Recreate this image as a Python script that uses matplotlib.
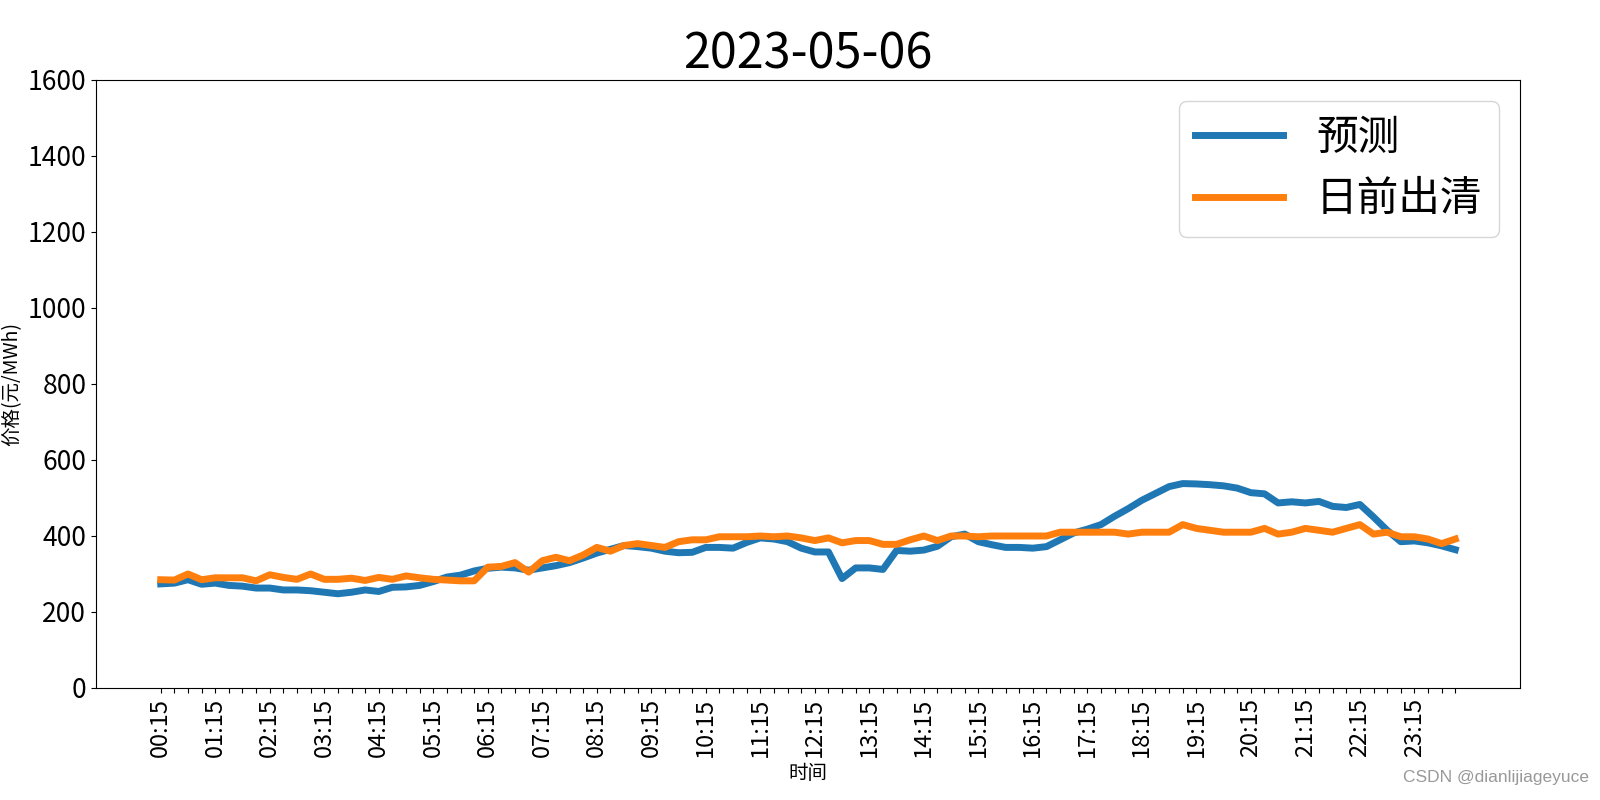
import numpy as np
import matplotlib
matplotlib.use('Agg')
import matplotlib.pyplot as plt

plt.rcParams['font.family'] = ['Noto Sans CJK SC', 'DejaVu Sans']
plt.rcParams['axes.unicode_minus'] = False

# 96 quarter-hour points, 00:15 ... 24:00
times = ['%02d:%02d' % divmod(15 * (i + 1), 60) for i in range(96)]

pred = [274, 276, 285, 273, 276, 270, 268, 263, 263, 258, 258, 256,
        252, 248, 252, 258, 254, 265, 266, 270, 280, 292, 297, 308,
        315, 318, 316, 310, 316, 322, 330, 342, 355, 365, 375, 372,
        368, 360, 356, 357, 370, 370, 368, 383, 395, 392, 385, 368,
        358, 358, 288, 316, 316, 312, 362, 360, 363, 373, 398, 405,
        385, 377, 370, 370, 368, 372, 390, 408, 418, 430, 452, 472,
        494, 512, 530, 538, 537, 535, 532, 526, 514, 511, 487, 490,
        487, 491, 478, 475, 483, 450, 415, 385, 387, 382, 374, 364]

clearing = [285, 284, 300, 285, 290, 290, 290, 282, 298, 291, 286, 300,
            286, 286, 289, 283, 291, 286, 295, 290, 286, 284, 282, 282,
            318, 320, 330, 305, 335, 344, 335, 350, 370, 360, 375, 380,
            375, 370, 385, 390, 390, 398, 398, 398, 400, 398, 400, 395,
            388, 395, 382, 388, 388, 378, 378, 390, 400, 388, 400, 400,
            398, 400, 400, 400, 400, 400, 410, 410, 410, 410, 410, 405,
            410, 410, 410, 430, 420, 415, 410, 410, 410, 420, 405, 410,
            420, 415, 410, 420, 430, 405, 410, 398, 398, 392, 380, 392]

tick_labels = [t if i % 4 == 0 else '' for i, t in enumerate(times)]

fig, ax = plt.subplots(figsize=(16, 8), dpi=100)
fig.subplots_adjust(left=0.06, right=0.95, top=0.9, bottom=0.14)

x = np.arange(len(times))
ax.plot(x, pred, color='#1f77b4', linewidth=5, label='预测')
ax.plot(x, clearing, color='#ff7f0e', linewidth=5, label='日前出清')

ax.set_ylim(0, 1600)
ax.set_xticks(x)
ax.set_xticklabels(tick_labels, rotation=90, fontsize=17)
ax.tick_params(axis='y', labelsize=19)
ax.set_title('2023-05-06', fontsize=35)
ax.set_xlabel('时间', fontsize=14)
ax.set_ylabel('价格(元/MWh)', fontsize=14)
ax.legend(loc='upper right', fontsize=30, handlelength=2.1)

fig.text(0.993, 0.028, 'CSDN @dianlijiageyuce', ha='right', va='center',
         fontsize=12.5, color='#999999', family=['Liberation Sans', 'DejaVu Sans'])

plt.savefig('out.png', dpi=100)
